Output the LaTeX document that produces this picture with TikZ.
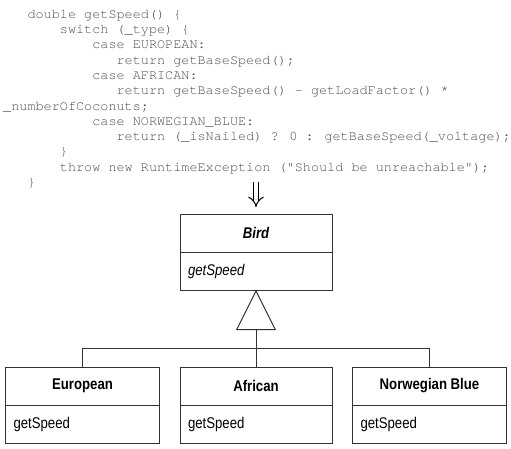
\documentclass[tikz,border=0pt]{standalone}
\usepackage{fontspec}
\newfontfamily\codefont{TeX Gyre Cursor}[Ligatures=TeXOff]
\newfontfamily\umlfont{Liberation Sans}[FakeStretch=0.85]
\usetikzlibrary{arrows.meta,positioning}
\tikzset{
  codeline/.style={
    anchor=base west,
    inner sep=0pt,
    text=black!70,
    font=\codefont\fontsize{13.5}{15}\selectfont
  },
  classbox/.style={
    draw=black!80,
    line width=1pt,
    minimum height=38pt,
    inner sep=0pt,
    outer sep=0pt,
    font=\umlfont\fontsize{15.5}{18}\selectfont\bfseries
  },
  opsbox/.style={
    draw=black!80,
    line width=1pt,
    minimum height=38pt,
    inner xsep=8pt,
    inner ysep=0pt,
    outer sep=0pt,
    align=left,
    font=\umlfont\fontsize{15.5}{18}\selectfont
  },
  implies/.style={double=white, double distance=4.5pt, line width=1pt, -Implies},
  generalize/.style={draw=black!80, line width=1pt, -{Triangle[open, length=40pt, width=40pt]}},
  branch/.style={draw=black!80, line width=1pt}
}

\begin{document}
\begin{tikzpicture}[x=1pt, y=1pt]
  \useasboundingbox (0,0) rectangle (511,-449);
  % source before the refactoring
  \foreach \col/\txt [count=\i from 0] in {
      3/{double getSpeed() \{},
      7/{switch (\_type) \{},
      11/{case EUROPEAN:},
      14/{return getBaseSpeed();},
      11/{case AFRICAN:},
      14/{return getBaseSpeed() - getLoadFactor() *},
      0/{\_numberOfCoconuts;},
      11/{case NORWEGIAN\_BLUE:},
      14/{return (\_isNailed) ? 0 : getBaseSpeed(\_voltage);},
      7/{\}},
      7/{throw new RuntimeException ("Should be unreachable");},
      3/{\}}}
    \node[codeline] (code\i) at (3+\col*8.1, -18.3-\i*15.3) {\txt};
  % class hierarchy
  \node[classbox, minimum width=152pt] (bird) at (256,-233) {\itshape Bird};
  \node[opsbox, text width=136pt, below=0pt of bird] (birdops) {\itshape getSpeed};
  \node[classbox, minimum width=154pt] (euro) at (82.5,-386) {European};
  \node[opsbox, text width=138pt, below=0pt of euro] (euroops) {getSpeed};
  \node[classbox, minimum width=152pt] (afr) at (256,-386) {African};
  \node[opsbox, text width=136pt, below=0pt of afr] (afrops) {getSpeed};
  \node[classbox, minimum width=154pt] (norw) at (429.5,-386) {Norwegian Blue};
  \node[opsbox, text width=138pt, below=0pt of norw] (norwops) {getSpeed};
  \coordinate (join) at (256,-348);
  \draw[branch] (euro.north) |- (join);
  \draw[branch] (norw.north) |- (join);
  \draw[generalize] (afr.north) -- (birdops.south);
  \coordinate (arrowtop) at (256,-182);
  \draw[implies, shorten >=7pt] (arrowtop) -- (bird.north);
\end{tikzpicture}
\end{document}
